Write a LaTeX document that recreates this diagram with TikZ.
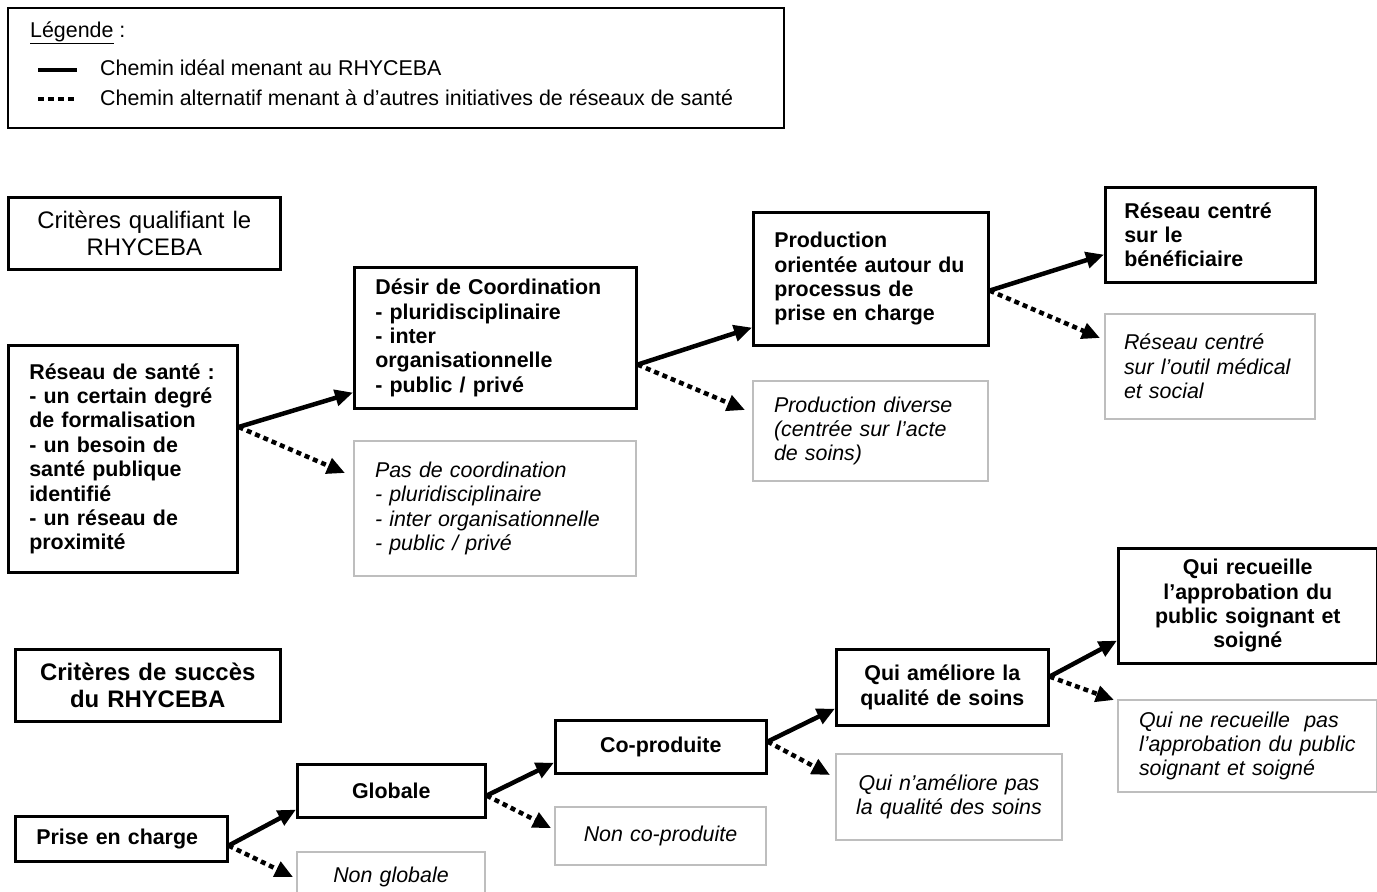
\documentclass[tikz,border=0pt]{standalone}
\usepackage{fontspec}
\setmainfont{Liberation Sans}
\usetikzlibrary{arrows.meta}

\definecolor{grisbord}{RGB}{190,190,190}
\newcommand{\corps}{\fontsize{21.4}{24.4}\selectfont}
\newcommand{\titre}{\fontsize{23.9}{27.4}\selectfont}

\tikzset{
  cadre/.style={draw, line width=2.6pt, anchor=north west, inner xsep=21pt, inner ysep=0pt, font=\corps\bfseries, align=left},
  piste/.style={draw=grisbord, line width=2pt, anchor=north west, inner xsep=21pt, inner ysep=0pt, font=\corps\itshape, align=left},
  ideal/.style={line width=4.5pt, -{Triangle[length=18pt,width=16pt]}},
  alternatif/.style={line width=4.5pt, dash pattern=on 5pt off 4pt, -{Triangle[length=18pt,width=16pt]}},
  legtexte/.style={anchor=west, inner sep=0pt, font=\corps},
}

\begin{document}
\begin{tikzpicture}[x=1pt, y=-1pt]
        \clip (0,0) rectangle (1377,892);
        % legende
        \node[draw, line width=2pt, anchor=north west, minimum width=776pt, minimum height=120pt] (legende) at (7,7) {};
        \node[legtexte] (legtitre) at (30,33) {\underline{Légende} :};
        \draw[line width=4.5pt] (38,70) -- (77,70);
        \node[legtexte] (legideal) at (100,68) {Chemin idéal menant au RHYCEBA};
        \draw[line width=4.5pt, dash pattern=on 6pt off 4pt] (38,99) -- (77,99);
        \node[legtexte] (legautre) at (100,98) {Chemin alternatif menant à d’autres initiatives de réseaux de santé};

        % criteres qualifiant
        \node[cadre, font=\titre, align=center, text width=230pt, minimum height=72pt] (critq) at (7,196) {Critères qualifiant le\\RHYCEBA};
        \node[cadre, text width=187pt, minimum height=227pt] (reseau) at (7,344) {Réseau de santé :\\- un certain degré\\de formalisation\\- un besoin de\\santé publique\\identifié\\- un réseau de\\proximité};
        \node[cadre, text width=240pt, minimum height=141pt] (desir) at (353,266) {Désir de Coordination\\- pluridisciplinaire\\- inter\\organisationnelle\\- public / privé};
        \node[piste, text width=240pt, minimum height=135pt] (pas) at (353,440) {Pas de coordination\\- pluridisciplinaire\\- inter organisationnelle\\- public / privé};
        \node[cadre, text width=193pt, minimum height=133pt] (prod) at (752,211) {Production\\orientée autour du\\processus de\\prise en charge};
        \node[piste, text width=193pt, minimum height=100pt] (diverse) at (752,380) {Production diverse\\(centrée sur l’acte\\de soins)};
        \node[cadre, inner xsep=19pt, text width=172pt, minimum height=95pt] (benef) at (1104,186) {Réseau centré\\sur le\\bénéficiaire};
        \node[piste, inner xsep=19pt, text width=172pt, minimum height=105pt] (outil) at (1104,313) {Réseau centré\\sur l’outil médical\\et social};

        \draw[ideal] ([yshift=-83pt]reseau.north east) -- ([yshift=17pt]desir.south west);
        \draw[alternatif] ([yshift=-83pt]reseau.north east) -- ([xshift=-8pt,yshift=-33pt]pas.north west);
        \draw[ideal] ([yshift=45pt]desir.south east) -- ([yshift=19pt]prod.south west);
        \draw[alternatif] ([yshift=45pt]desir.south east) -- ([xshift=-7pt,yshift=-30pt]diverse.north west);
        \draw[ideal] ([yshift=56pt]prod.south east) -- ([yshift=29pt]benef.south west);
        \draw[alternatif] ([yshift=56pt]prod.south east) -- ([xshift=-4pt,yshift=-25pt]outil.north west);

        % criteres de succes
        \node[cadre, font=\titre\bfseries, align=center, text width=223pt, minimum height=72pt] (crits) at (14,648) {Critères de succès\\du RHYCEBA};
        \node[cadre, text width=170pt, minimum height=45pt] (prise) at (14,815) {Prise en charge};
        \node[cadre, align=center, text width=146pt, minimum height=53pt] (glob) at (296,763) {Globale};
        \node[piste, align=center, text width=146pt, minimum height=50pt] (nonglob) at (296,851) {Non globale};
        \node[cadre, align=center, text width=169pt, minimum height=53pt] (coprod) at (554,719) {Co-produite};
        \node[piste, align=center, text width=169pt, minimum height=58pt] (noncoprod) at (554,806) {Non co-produite};
        \node[cadre, align=center, text width=170pt, minimum height=76pt] (qualite) at (835,648) {Qui améliore la\\qualité de soins};
        \node[piste, align=center, inner xsep=8pt, text width=210pt, minimum height=86pt] (nonqualite) at (835,753) {Qui n’améliore pas\\la qualité des soins};
        \node[cadre, align=center, text width=217pt, minimum height=115pt] (approb) at (1117,547) {Qui recueille\\l’approbation du\\public soignant et\\soigné};
        \node[piste, text width=217pt, minimum height=92pt] (nonapprob) at (1117,699) {Qui ne recueille~ pas\\l’approbation du public\\soignant et soigné};

        \draw[ideal] ([yshift=17pt]prise.south east) -- ([yshift=9pt]glob.south west);
        \draw[alternatif] ([yshift=17pt]prise.south east) -- ([xshift=-3pt,yshift=-26pt]nonglob.north west);
        \draw[ideal] ([yshift=23pt]glob.south east) -- ([yshift=12pt]coprod.south west);
        \draw[alternatif] ([yshift=23pt]glob.south east) -- ([xshift=-3pt,yshift=-22pt]noncoprod.north west);
        \draw[ideal] ([yshift=33pt]coprod.south east) -- ([yshift=18pt]qualite.south west);
        \draw[alternatif] ([yshift=33pt]coprod.south east) -- ([xshift=-5pt,yshift=-22pt]nonqualite.north west);
        \draw[ideal] ([yshift=50pt]qualite.south east) -- ([yshift=24pt]approb.south west);
        \draw[alternatif] ([yshift=50pt]qualite.south east) -- ([xshift=-3pt,yshift=-1pt]nonapprob.north west);
\end{tikzpicture}
\end{document}
